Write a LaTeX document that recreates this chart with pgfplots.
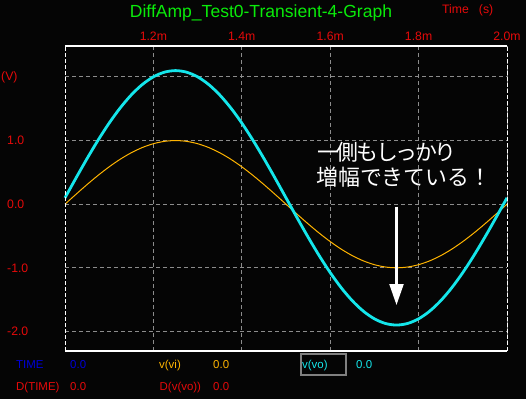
\documentclass[border=0pt]{standalone}
\usepackage{fontspec}
\setmainfont{Liberation Sans}
\newfontfamily\jp{Noto Sans CJK JP}
\usepackage{pgfplots}
\pgfplotsset{compat=1.18}
\usepackage{pgfplotstable}
\usetikzlibrary{arrows.meta}
\definecolor{lblred}{RGB}{230,10,10}
\definecolor{ttlgreen}{RGB}{10,235,10}
\definecolor{vocyan}{RGB}{20,230,235}
\definecolor{viorange}{RGB}{255,180,0}
\definecolor{timeblue}{RGB}{0,0,215}
\definecolor{gridgray}{RGB}{140,140,140}
\definecolor{boxgray}{RGB}{128,128,128}
\definecolor{bg}{RGB}{5,5,5}
\pgfplotstableread{
t vi vo
1.000 0 0.1
1.025 0.1564 0.4128
1.050 0.3090 0.7180
1.075 0.4540 1.0080
1.100 0.5878 1.2756
1.125 0.7071 1.5142
1.150 0.8090 1.7180
1.175 0.8910 1.8820
1.200 0.9511 2.0022
1.225 0.9877 2.0754
1.250 1.0000 2.1000
1.275 0.9877 2.0754
1.300 0.9511 2.0022
1.325 0.8910 1.8820
1.350 0.8090 1.7180
1.375 0.7071 1.5142
1.400 0.5878 1.2756
1.425 0.4540 1.0080
1.450 0.3090 0.7180
1.475 0.1564 0.4128
1.500 0 0.1
1.525 -0.1564 -0.2128
1.550 -0.3090 -0.5180
1.575 -0.4540 -0.8080
1.600 -0.5878 -1.0756
1.625 -0.7071 -1.3142
1.650 -0.8090 -1.5180
1.675 -0.8910 -1.6820
1.700 -0.9511 -1.8022
1.725 -0.9877 -1.8754
1.750 -1.0000 -1.9000
1.775 -0.9877 -1.8754
1.800 -0.9511 -1.8022
1.825 -0.8910 -1.6820
1.850 -0.8090 -1.5180
1.875 -0.7071 -1.3142
1.900 -0.5878 -1.0756
1.925 -0.4540 -0.8080
1.950 -0.3090 -0.5180
1.975 -0.1564 -0.2128
2.000 0 0.1
}\datatable
\begin{document}
\begin{tikzpicture}
\fill[bg] (0,0) rectangle (526bp,399bp);
\useasboundingbox (0,0) rectangle (526bp,399bp);
\begin{axis}[
  at={(65bp,48bp)}, anchor=south west,
  scale only axis, width=442bp, height=305bp,
  xmin=1, xmax=2, ymin=-2.308, ymax=2.487,
  axis line style={draw=none},
  xtick={1.2,1.4,1.6,1.8,2.0},
  xticklabels={1.2m,1.4m,1.6m,1.8m,2.0m},
  ytick={-2,-1,0,1,2},
  yticklabels={-2.0,-1.0,0.0,1.0,{\hspace*{-6bp}(V)}},
  xticklabel pos=upper,
  major tick length=0pt,
  tick style={draw=none},
  xticklabel style={anchor=base, yshift=5.3bp, text=lblred, font=\fontsize{12.3}{14}\selectfont, inner sep=0pt},
  yticklabel style={anchor=west, xshift=-58bp, text=lblred, font=\fontsize{12.3}{14}\selectfont, inner sep=0pt},
  grid=major,
  major grid style={gridgray, line width=1bp, dash pattern=on 4bp off 3bp},
  clip=false,
]
\addplot[viorange, line width=1bp, smooth] table[x=t, y=vi] {\datatable};
\addplot[vocyan, line width=2.8bp, smooth] table[x=t, y=vo] {\datatable};
\draw[white, line width=1.2bp] (rel axis cs:0,1) -- (rel axis cs:1,1);
\draw[white, line width=1.2bp] (rel axis cs:0,0) -- (rel axis cs:1,0);
\draw[white, line width=1bp, dash pattern=on 4bp off 2bp] (rel axis cs:0,0) -- (rel axis cs:0,1);
\draw[white, line width=1bp, dash pattern=on 4bp off 2bp] (rel axis cs:1,0) -- (rel axis cs:1,1);
\draw[white, line width=2.2bp, -{Triangle[length=21bp,width=14bp]}] (axis cs:1.75,-0.04) -- (axis cs:1.75,-1.585);
\end{axis}
% titles and labels
\node[anchor=base, inner sep=0pt, text=ttlgreen, font=\fontsize{17.6}{20}\selectfont] at (261bp,381.5bp) {DiffAmp\_Test0-Transient-4-Graph};
\node[anchor=base west, inner sep=0pt, text=lblred, font=\fontsize{12.3}{14}\selectfont] at (442bp,385bp) {Time\hspace{10bp}(s)};
% annotation
\node[anchor=base west, inner sep=0pt, text=white, font=\jp\fontsize{22}{26}\selectfont] at (317bp,238.5bp) {一\kern-2.3bp 側\kern-2.3bp も\kern-2.3bp し\kern-2.3bp っ\kern-2.3bp か\kern-2.3bp り};
\node[anchor=base west, inner sep=0pt, text=white, font=\jp\fontsize{22}{26}\selectfont] at (316bp,213.5bp) {増幅できている！};
% bottom readout
\begin{scope}[every node/.style={anchor=base west, inner sep=0pt, font=\fontsize{11.5}{13}\selectfont}]
\node[text=timeblue] at (16bp,30.7bp) {TIME};
\node[text=timeblue] at (70bp,30.7bp) {0.0};
\node[text=viorange] at (159bp,30.7bp) {v(vi)};
\node[text=viorange] at (213bp,30.7bp) {0.0};
\node[text=vocyan] at (302bp,30.7bp) {v(vo)};
\node[text=vocyan] at (356bp,30.7bp) {0.0};
\node[text=lblred] at (16bp,9bp) {D(TIME)};
\node[text=lblred] at (70bp,9bp) {0.0};
\node[text=lblred] at (159.5bp,9bp) {D(v(vo))};
\node[text=lblred] at (213bp,9bp) {0.0};
\end{scope}
\draw[boxgray, line width=2bp] (301bp,24bp) rectangle (345.5bp,44.5bp);
\end{tikzpicture}
\end{document}
